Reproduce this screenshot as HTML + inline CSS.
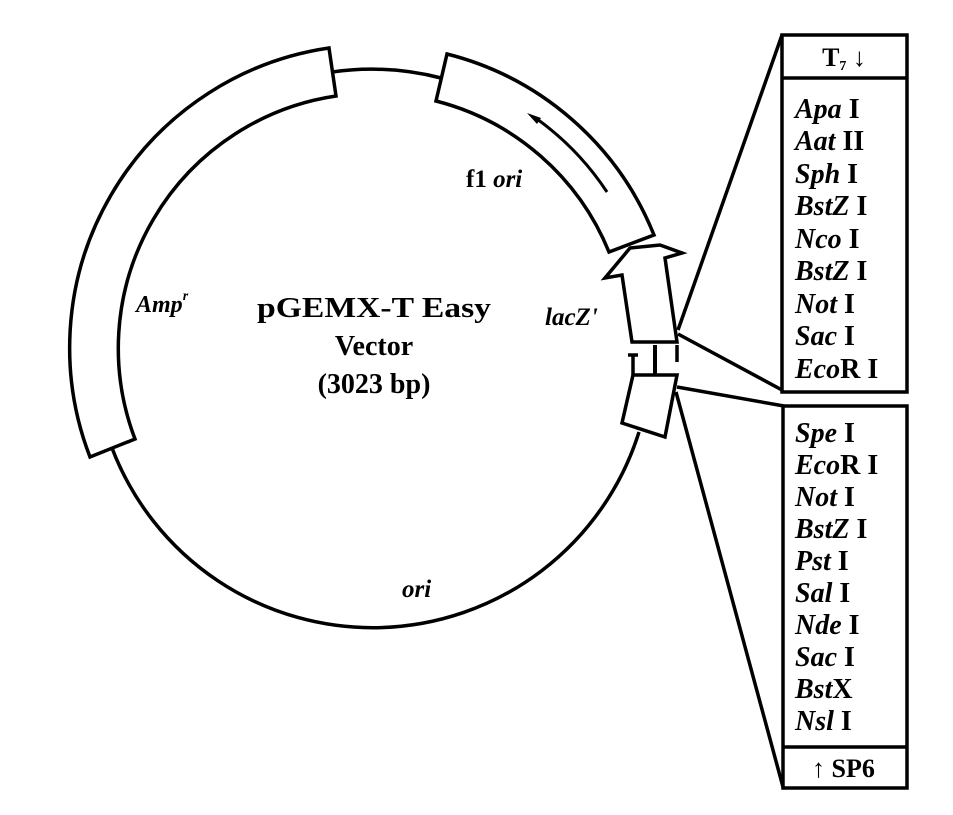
<!DOCTYPE html>
<html><head><meta charset="utf-8"><style>
html,body{margin:0;padding:0;background:#fff;width:953px;height:815px;overflow:hidden}
svg{display:block}
text{font-family:"Liberation Serif",serif;fill:#000}
.b{font-weight:bold}
.i{font-style:italic;font-weight:bold}
</style></head><body>
<svg width="953" height="815" viewBox="0 0 953 815" xmlns="http://www.w3.org/2000/svg">
<g fill="none" stroke="#000" stroke-width="3.5" stroke-linejoin="miter">
<path d="M639,432 A279,279 0 0 1 112,448"/>
<path d="M332,72 A279,279 0 0 1 441,78"/>
<path d="M90,457 A303,303 0 0 1 329,48 L336,96 A255,255 0 0 0 135,439 Z" fill="#fff"/>
<path d="M447,54 A303,303 0 0 1 654,235 L609,252 A255,255 0 0 0 436,101 Z" fill="#fff"/>
<path d="M537,119 A281,281 0 0 1 607,192" stroke-width="3"/>
<path d="M632,342 L622,275 L605,278 L630,248 L660,245 L682,253 L665,258 L677,342 Z" fill="#fff"/>
<line x1="655" y1="345" x2="655" y2="375" stroke-width="4"/>
<line x1="633" y1="355" x2="633" y2="375"/>
<line x1="628" y1="355" x2="638" y2="355"/>
<line x1="677" y1="345" x2="677" y2="362"/>
<path d="M633,375 L677,375 L665,437 L622,423 Z" fill="#fff"/>
<line x1="678" y1="330" x2="782" y2="35"/>
<line x1="678" y1="334" x2="782" y2="390"/>
<line x1="677" y1="387" x2="784" y2="406"/>
<line x1="676" y1="392" x2="783" y2="787"/>
<rect x="782" y="35" width="125" height="357"/>
<line x1="782" y1="78" x2="907" y2="78"/>
<rect x="783" y="406" width="124" height="382"/>
<line x1="783" y1="747" x2="907" y2="747"/>
</g>
<polygon points="527,113 541,118 537,124" fill="#000"/>
<text class="b" x="374" y="317" font-size="28" text-anchor="middle" textLength="234" lengthAdjust="spacingAndGlyphs">pGEMX-T Easy</text>
<text class="b" x="374" y="355" font-size="28" text-anchor="middle">Vector</text>
<text class="b" x="374" y="393" font-size="28" text-anchor="middle">(3023 bp)</text>
<text class="i" x="136" y="312" font-size="24">Amp<tspan font-size="14" dy="-12">r</tspan></text>
<text x="466" y="187" font-size="25" class="b">f1 <tspan class="i">ori</tspan></text>
<text class="i" x="402" y="597" font-size="25">ori</text>
<text class="i" x="545" y="325" font-size="25">lacZ'</text>
<text class="b" x="844" y="66" font-size="26" text-anchor="middle">T<tspan font-size="14" dy="4">7</tspan><tspan dy="-4"> ↓</tspan></text>
<g font-size="28">
<text x="795" y="118" class="i">Apa <tspan font-style="normal">I</tspan></text>
<text x="795" y="150" class="i">Aat <tspan font-style="normal">II</tspan></text>
<text x="795" y="183" class="i">Sph <tspan font-style="normal">I</tspan></text>
<text x="795" y="215" class="i">BstZ <tspan font-style="normal">I</tspan></text>
<text x="795" y="248" class="i">Nco <tspan font-style="normal">I</tspan></text>
<text x="795" y="280" class="i">BstZ <tspan font-style="normal">I</tspan></text>
<text x="795" y="313" class="i">Not <tspan font-style="normal">I</tspan></text>
<text x="795" y="345" class="i">Sac <tspan font-style="normal">I</tspan></text>
<text x="795" y="378" class="i">Eco<tspan font-style="normal">R I</tspan></text>
<text x="795" y="442" class="i">Spe <tspan font-style="normal">I</tspan></text>
<text x="795" y="474" class="i">Eco<tspan font-style="normal">R I</tspan></text>
<text x="795" y="506" class="i">Not <tspan font-style="normal">I</tspan></text>
<text x="795" y="538" class="i">BstZ <tspan font-style="normal">I</tspan></text>
<text x="795" y="570" class="i">Pst <tspan font-style="normal">I</tspan></text>
<text x="795" y="602" class="i">Sal <tspan font-style="normal">I</tspan></text>
<text x="795" y="634" class="i">Nde <tspan font-style="normal">I</tspan></text>
<text x="795" y="666" class="i">Sac <tspan font-style="normal">I</tspan></text>
<text x="795" y="698" class="i">Bst<tspan font-style="normal">X</tspan></text>
<text x="795" y="730" class="i">Nsl <tspan font-style="normal">I</tspan></text>
</g>
<text class="b" x="812" y="777" font-size="26">↑ SP6</text>
</svg>
</body></html>
